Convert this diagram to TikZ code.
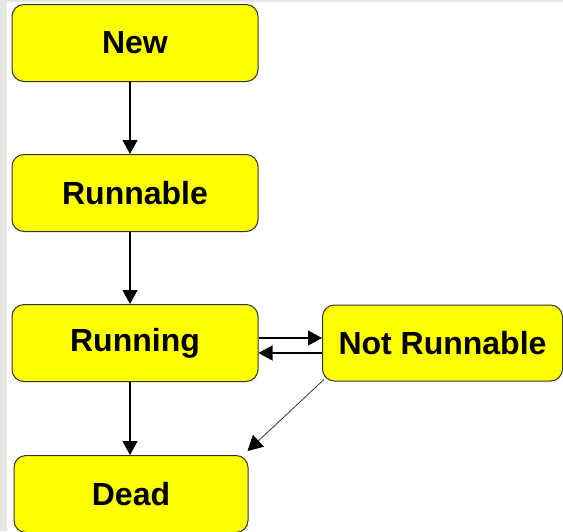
\documentclass[tikz,border=0pt]{standalone}
\usepackage{fontspec}
\setmainfont{Liberation Sans}
\usetikzlibrary{arrows.meta, positioning}
\definecolor{stateyellow}{RGB}{255,255,0}
\definecolor{framegray}{RGB}{232,230,227}
\tikzset{
    state/.style={
        rectangle,
        rounded corners=6pt,
        draw=black!80,
        line width=0.5pt,
        fill=stateyellow,
        minimum width=123pt,
        minimum height=38.5pt,
        inner sep=0pt,
        font=\fontsize{16}{19}\selectfont\bfseries
    },
    transition/.style={
        -{Triangle[length=7pt,width=7.5pt]},
        line width=0.6pt
    },
    thin transition/.style={
        -{Triangle[length=7.5pt,width=8pt,color=black]},
        line width=0.4pt,
        draw=black!80
    }
}

\begin{document}
\begin{tikzpicture}[x=0.5pt,y=-0.5pt]
    \useasboundingbox (0,0) rectangle (563,531);
    \fill[white] (0,0) rectangle (563,531);
    \fill[framegray] (0,0) rectangle (7,531);
    \fill[framegray] (0,0) rectangle (563,2);

    % Nodes for states
    \node (New) [state] at (135,43) {New};
    \node (Runnable) [state] at (135,193) {Runnable};
    \node (Running) [state] at (135,343) {Running};
    \node (Dead) [state, minimum width=117pt] at (131,494) {Dead};
    \node (NotRunnable) [state, minimum width=120pt, minimum height=38pt] at (442.5,343) {Not Runnable};

    % Transition arrows
    \draw [transition] ([xshift=-2.5pt]New.south) -- ([xshift=-2.5pt]Runnable.north);
    \draw [transition] ([xshift=-2.5pt]Runnable.south) -- ([xshift=-2.5pt]Running.north);
    \draw [transition] ([xshift=-2.5pt]Running.south) -- ([xshift=-2.5pt]Running.south |- Dead.north);
    \draw [transition] ([yshift=2.5pt]Running.east) -- ([yshift=2.5pt]NotRunnable.west);
    \draw [transition] ([yshift=-5pt]NotRunnable.west) -- ([yshift=-5pt]Running.east);
    \draw [thin transition] ([shift={(1pt,1pt)}]NotRunnable.south west) -- ([shift={(-0.5pt,2pt)}]Dead.north east);

\end{tikzpicture}
\end{document}
